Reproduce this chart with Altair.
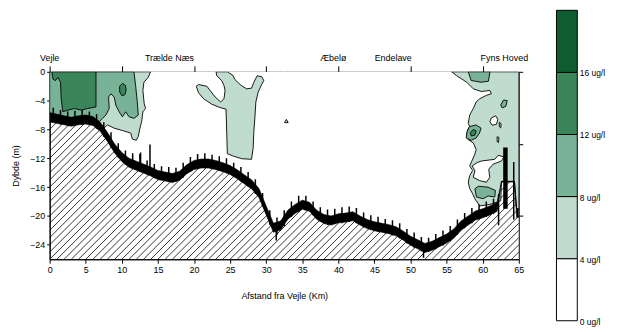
import altair as alt
import pandas as pd

# ---------------- data ----------------
# seabed (echo band) : distance (km), upper and lower depth of the black band (m)
SEABED_KM = [0, 1, 2, 3, 4, 5, 6, 7, 8, 9, 10, 11, 12, 13, 14, 15, 16, 17, 18, 19, 20,
             21, 22, 23, 24, 25, 26, 27, 28, 29, 30, 31, 32, 33, 34, 35, 36, 37, 38, 39, 40,
             41, 42, 43, 44, 45, 46, 47, 48, 49, 50, 51, 52, 53, 54, 55, 56, 57, 58, 59, 60,
             61, 62, 62.6, 64.4, 64.7, 65]
SEABED_TOP = [5.7, 5.9, 6.1, 6.3, 6.1, 6.0, 6.2, 7.0, 8.4, 10.0, 11.2, 12.0, 12.4, 12.8, 13.2,
              13.7, 13.9, 14.1, 13.8, 12.9, 12.3, 12.1, 12.1, 12.3, 12.6, 13.0, 13.6, 14.3, 15.0,
              16.2, 18.6, 21.0, 20.7, 19.2, 18.4, 17.8, 18.1, 19.2, 19.8, 20.0, 19.7, 19.6, 19.4,
              20.0, 20.5, 20.8, 21.0, 21.2, 21.5, 22.1, 22.8, 23.3, 23.8, 23.5, 23.0, 22.5, 21.8,
              20.7, 20.0, 19.3, 19.0, 18.6, 18.1, 15.2, 15.2, 19.0, 19.0]
SEABED_BOT = [6.95, 7.15, 7.35, 7.55, 7.35, 7.25, 7.45, 8.25, 9.65, 11.25, 12.45, 13.25, 13.65,
              14.05, 14.45, 14.95, 15.15, 15.35, 15.05, 14.15, 13.55, 13.35, 13.35, 13.55, 13.85,
              14.25, 14.85, 15.55, 16.25, 17.45, 19.85, 22.25, 21.95, 20.45, 19.65, 19.05, 19.35,
              20.45, 21.05, 21.25, 20.95, 20.85, 20.65, 21.25, 21.75, 22.05, 22.25, 22.45, 22.75,
              23.35, 24.05, 24.55, 25.05, 24.75, 24.25, 23.75, 23.05, 21.95, 21.25, 20.55, 20.25,
              19.85, 19.35, 15.3, 15.3, 20.2, 20.2]

# echo spikes sticking out of the seabed band
SPIKE_KM = [0.5, 1.5, 2.5, 3.5, 4.5, 5.5, 6.5, 7.5, 8.5, 9.5, 10.5, 11.5, 12.5, 13.5, 14.5,
            15.5, 16.5, 17.5, 18.5, 19.5, 20.5, 21.5, 22.5, 23.5, 24.5, 25.5, 26.5, 27.5, 28.5,
            29.5, 30.5, 31.5, 32.5, 33.5, 34.5, 35.5, 36.5, 37.5, 38.5, 39.5, 40.5, 41.5, 42.5,
            43.5, 44.5, 45.5, 46.5, 47.5, 48.5, 49.5, 50.5, 51.5, 52.5, 53.5, 54.5, 55.5, 56.5,
            57.5, 58.5, 59.5, 60.5, 61.5,
            12.6, 13.9, 31.4, 51.8, 62.2, 64.3]
SPIKE_TOP = [5.0, 5.3, 5.5, 5.4, 5.3, 5.5, 5.9, 7.0, 8.4, 9.9, 10.9, 11.3, 11.4, 12.3, 12.8,
             13.1, 13.2, 13.3, 12.6, 11.8, 11.4, 11.3, 11.5, 11.7, 12.0, 12.6, 13.2, 13.9, 14.9,
             16.8, 19.2, 20.2, 19.2, 18.0, 17.2, 17.2, 18.0, 18.8, 19.1, 19.0, 18.8, 18.7, 18.9,
             19.5, 19.9, 20.1, 20.4, 20.6, 21.0, 21.8, 22.3, 22.9, 23.0, 22.5, 22.0, 21.4, 20.5,
             19.6, 18.9, 18.4, 18.0, 17.6,
             11.2, 10.1, 21.5, 24.2, 17.0, 12.5]
SPIKE_BOT = [7.0, 7.3, 7.5, 7.4, 7.3, 7.4, 7.9, 9.0, 10.5, 11.9, 12.9, 13.4, 13.8, 14.2, 14.7,
             15.0, 15.3, 15.2, 14.7, 13.9, 13.4, 13.3, 13.4, 13.7, 14.0, 14.5, 15.2, 15.9, 16.9,
             18.6, 21.2, 22.6, 21.4, 20.1, 19.4, 19.2, 19.9, 20.8, 21.2, 21.1, 21.0, 20.8, 21.0,
             21.6, 21.9, 22.2, 22.4, 22.7, 23.1, 23.8, 24.4, 24.9, 25.0, 24.6, 24.1, 23.5, 22.6,
             21.7, 21.0, 20.5, 20.1, 19.7,
             13.0, 13.5, 23.4, 25.8, 21.3, 20.5]
BAR_KM = [63.15]
BAR_TOP = [10.5]
BAR_BOT = [19.0]

# chlorophyll contour polygons (km, depth m)
L1 = [(6.5, 0), (13.98, 0), (13.66, 0.77), (13.06, 1.46), (12.92, 2.59), (13.1, 4.41),
      (13.29, 5.09), (12.92, 5.55), (12.74, 6.91), (12.51, 7.82), (12.28, 8.96), (12.0, 9.5),
      (11.46, 9.32), (11.23, 8.5), (10.08, 8.14), (8.94, 7.82), (8.02, 7.37), (7.5, 7.8),
      (7.0, 7.4), (6.5, 7.0)]
TBLOB = [(23.06, 0), (23.15, 0.55), (23.84, 1.23), (24.16, 1.91), (24.30, 2.59), (24.16, 3.73),
         (23.70, 4.18), (22.93, 3.50), (22.24, 2.59), (21.78, 2.0), (20.63, 1.77), (20.31, 2.0),
         (20.63, 2.91), (21.32, 3.73), (22.47, 4.50), (23.61, 4.96), (24.44, 5.18), (24.53, 8.28),
         (24.62, 11.37), (25.45, 11.69), (26.59, 12.05), (27.97, 12.14), (28.20, 10.55),
         (28.29, 8.28), (28.43, 6.46), (28.57, 4.18), (28.89, 2.82), (29.34, 1.82), (29.67, 1.23),
         (29.39, 0.68), (28.75, 0.55), (28.29, 1.46), (27.97, 2.27), (27.28, 2.36), (26.45, 1.82),
         (25.68, 1.09), (25.36, 0.45), (24.90, 0.18), (24.67, 0)]
TRI = [(32.55, 7.05), (32.8, 6.6), (33.05, 7.05)]
RIGHT = [(55.7, 0), (56.4, 0.55), (57.1, 1.0), (57.8, 1.46), (58.7, 2.36), (59.8, 2.73),
         (61.0, 2.59), (61.2, 3.05), (60.5, 3.27), (59.6, 3.73), (59.1, 4.18), (58.7, 5.09),
         (58.2, 6.0), (58.0, 7.14), (58.2, 7.6), (57.9, 8.05), (57.8, 8.73), (58.0, 9.41),
         (58.7, 9.86), (59.1, 10.78), (58.9, 11.46), (58.5, 12.37), (58.2, 13.05), (58.6, 13.7),
         (58.2, 14.4), (58.0, 15.3), (58.2, 16.2), (58.6, 16.9), (58.9, 17.6), (59.6, 18.6),
         (61.0, 18.4), (62.5, 17.9), (62.6, 15.2), (64.4, 15.2), (64.7, 19.0), (65, 19.0), (65, 0)]
LOOP1 = [(62.3, 7.0), (62.55, 7.2), (62.5, 7.8), (62.3, 7.6)]
LOOP2 = [(62.0, 9.0), (62.25, 9.1), (62.2, 9.8), (62.0, 9.7)]
W1 = [(61.2, 6.4), (61.8, 6.1), (62.1, 6.6), (61.9, 7.3), (61.3, 7.4), (61.0, 6.9)]
W2 = [(59.83, 12.37), (61.67, 12.14), (62.13, 11.6), (62.95, 11.78), (62.59, 12.37),
      (61.44, 12.82), (60.84, 13.51), (60.98, 14.64), (60.52, 15.32), (59.6, 15.1),
      (58.69, 14.64), (58.92, 13.73), (58.55, 13.05), (59.22, 12.6)]
M1 = [(0, 0), (11.68, 0), (11.91, 1.91), (12.14, 4.18), (12.28, 6.0), (11.68, 6.46), (11.0, 6.23),
      (10.54, 5.55), (10.08, 6.23), (9.63, 5.55), (9.17, 4.64), (8.94, 3.5), (8.48, 3.05),
      (8.16, 3.5), (8.25, 5.09), (7.79, 6.0), (7.33, 6.46), (6.88, 6.91), (6.0, 6.4), (5.0, 6.1),
      (4.0, 6.2), (3.0, 6.4), (2.0, 6.2), (1.0, 5.9), (0, 5.7)]
MR_TOP = [(58.0, 0), (61.0, 0), (60.8, 1.3), (59.8, 1.45), (58.4, 1.2)]
MR1 = [(57.85, 8.28), (58.17, 7.6), (59.09, 7.37), (59.78, 7.82), (59.55, 8.5), (59.09, 9.18),
       (58.4, 9.5), (57.71, 9.18)]
MR2 = [(62.5, 4.6), (62.9, 3.9), (63.4, 4.0), (63.2, 4.8), (62.7, 5.0)]
MR3 = [(58.92, 16.23), (59.38, 15.87), (60.75, 16.0), (61.76, 16.46), (61.67, 17.37),
       (60.75, 17.23), (60.06, 17.6), (59.14, 17.37)]
D1 = [(0.32, 0), (6.42, 0), (6.42, 4.87), (5.27, 5.09), (4.36, 5.32), (3.44, 5.09), (2.52, 5.32),
      (1.83, 5.55), (1.6, 3.73), (1.51, 1.46), (1.15, 0.77), (0.78, 1.23), (0.46, 1.0), (0.32, 0.1)]
ISLAND = [(10.1, 1.6), (10.5, 1.9), (10.6, 2.6), (10.4, 3.2), (10.0, 3.3), (9.7, 2.8), (9.7, 2.0)]
DR1 = [(58.3, 8.4), (58.7, 8.0), (59.1, 8.2), (58.9, 8.8), (58.4, 8.9)]

POLYS = [("L1", "light", L1), ("TBLOB", "light", TBLOB), ("TRI", "light", TRI),
         ("RIGHT", "light", RIGHT), ("LOOP1", "light", LOOP1), ("LOOP2", "light", LOOP2),
         ("W1", "white", W1), ("W2", "white", W2),
         ("M1", "medium", M1), ("MR_TOP", "medium", MR_TOP), ("MR1", "medium", MR1),
         ("MR2", "medium", MR2), ("MR3", "medium", MR3),
         ("D1", "dark", D1), ("ISLAND", "dark", ISLAND), ("DR1", "dark", DR1)]

PLACE_NAMES = ["Vejle", "Trælde Næs", "Æbelø", "Endelave", "Fyns Hoved"]
PLACE_KM = [0, 16.6, 39.3, 47.6, 63.0]

LEVEL_LO = [0, 4, 8, 12, 16]
LEVEL_HI = [4, 8, 12, 16, 20]
LEVEL_LABELS = ["0 ug/l", "4 ug/l", "8 ug/l", "12 ug/l", "16 ug/l"]

# ---------------- styling ----------------
C_LIGHT = "#c0dccf"
C_MED = "#78b297"
C_DARK = "#3b855a"
C_DARKEST = "#0e5c30"
LEVEL_COLORS = ["#ffffff", C_LIGHT, C_MED, C_DARK, C_DARKEST]
CLASS_COLORS = {"light": C_LIGHT, "white": "#ffffff", "medium": C_MED, "dark": C_DARK}
FONT = "Liberation Sans"

# ---------------- tables ----------------
rows = []
for pid, cls, pts in POLYS:
    closed = list(pts) + [pts[0]]
    for i, (k, d) in enumerate(closed):
        rows.append({"pid": pid, "cls": cls, "i": i, "km": k, "y": -d})
poly_df = pd.DataFrame(rows)

sea_df = pd.DataFrame({"km": SEABED_KM,
                       "ytop": [-v for v in SEABED_TOP],
                       "ybot": [-v for v in SEABED_BOT]})
spike_df = pd.DataFrame({"km": SPIKE_KM, "yt": [-v for v in SPIKE_TOP], "yb": [-v for v in SPIKE_BOT]})
bar_df = pd.DataFrame({"km": BAR_KM, "yt": [-v for v in BAR_TOP], "yb": [-v for v in BAR_BOT]})
place_df = pd.DataFrame({"name": PLACE_NAMES, "km": PLACE_KM})
cb_df = pd.DataFrame({"lo": LEVEL_LO, "hi": LEVEL_HI, "color": LEVEL_COLORS, "label": LEVEL_LABELS})

X_SCALE = alt.Scale(domain=[0, 65], nice=False, zero=False)
Y_SCALE = alt.Scale(domain=[-26, 0], nice=False, zero=False)
CB_X = alt.Scale(domain=[0, 1], range=[511, 532], nice=False, zero=False)
CB_Y = alt.Scale(domain=[0, 20], range=[251, -62], nice=False, zero=False)

bottom_axis = alt.Axis(values=list(range(0, 66, 5)), title="Afstand fra Vejle (Km)",
                       tickSize=4, labelPadding=2, titlePadding=18, labelFlush=False,
                       labelOverlap=False)
left_axis = alt.Axis(values=[0, -4, -8, -12, -16, -20, -24], title="Dybde (m)",
                     tickSize=3, labelPadding=2, titlePadding=9, labelFlush=False,
                     labelOverlap=False)
top_axis = alt.Axis(orient="top", values=list(range(0, 61, 10)), labels=False, title=None,
                    tickSize=6, domain=False)
right_axis = alt.Axis(orient="right", values=[0, -10, -20], labels=False, title=None,
                      tickSize=4, domain=False)

hatch = alt.Chart(alt.sequence(-26, 66, 1, as_="x0")).transform_calculate(
    x1="datum.x0 + 26", ya="-26", yb="0"
).mark_rule(color="black", strokeWidth=0.8, clip=True).encode(
    x=alt.X("x0:Q", scale=X_SCALE, axis=bottom_axis),
    x2="x1:Q",
    y=alt.Y("ya:Q", scale=Y_SCALE, axis=left_axis),
    y2="yb:Q",
)

water = alt.Chart(sea_df).transform_calculate(zero="0").mark_area(
    color="white", clip=True
).encode(
    x=alt.X("km:Q", scale=X_SCALE, axis=top_axis),
    y=alt.Y("ytop:Q", scale=Y_SCALE, axis=right_axis),
    y2="zero:Q",
)


def poly_layer(cls):
    return alt.Chart(poly_df).transform_filter(alt.datum.cls == cls).mark_line(
        fill=CLASS_COLORS[cls], stroke="black", strokeWidth=0.9, clip=True, strokeJoin="round"
    ).encode(
        x=alt.X("km:Q", scale=X_SCALE, axis=None),
        y=alt.Y("y:Q", scale=Y_SCALE, axis=None),
        detail="pid:N",
        order="i:Q",
    )


band = alt.Chart(sea_df).mark_area(color="black", stroke="black", strokeWidth=0.6, clip=True).encode(
    x=alt.X("km:Q", scale=X_SCALE, axis=None),
    y=alt.Y("ytop:Q", scale=Y_SCALE, axis=None),
    y2="ybot:Q",
)

spikes = alt.Chart(spike_df).mark_rule(color="black", strokeWidth=1.5, clip=True).encode(
    x=alt.X("km:Q", scale=X_SCALE, axis=None),
    y=alt.Y("yt:Q", scale=Y_SCALE, axis=None),
    y2="yb:Q",
)

bar = alt.Chart(bar_df).mark_rule(color="black", strokeWidth=4.5, clip=True).encode(
    x=alt.X("km:Q", scale=X_SCALE, axis=None),
    y=alt.Y("yt:Q", scale=Y_SCALE, axis=None),
    y2="yb:Q",
)

places = alt.Chart(place_df).mark_text(font=FONT, fontSize=9, baseline="middle",
                                       align="center", color="black").encode(
    x=alt.X("km:Q", scale=X_SCALE, axis=None),
    y=alt.value(-14),
    text="name:N",
)

cbar = alt.Chart(cb_df).transform_calculate(b0="0", b1="1").mark_rect(
    stroke="black", strokeWidth=1
).encode(
    x=alt.X("b0:Q", scale=CB_X, axis=None),
    x2="b1:Q",
    y=alt.Y("lo:Q", scale=CB_Y, axis=None),
    y2="hi:Q",
    fill=alt.Fill("color:N", scale=None),
)

cb_text = alt.Chart(cb_df).transform_calculate(lx="1.12").mark_text(
    font=FONT, fontSize=8.5, align="left", baseline="middle", dy=1, color="black"
).encode(
    x=alt.X("lx:Q", scale=CB_X, axis=None),
    y=alt.Y("lo:Q", scale=CB_Y, axis=None),
    text="label:N",
)

chart = alt.layer(
    hatch, water,
    poly_layer("light"), poly_layer("white"), poly_layer("medium"), poly_layer("dark"),
    band, spikes, bar, places, cbar, cb_text,
).resolve_scale(x="independent", y="independent").properties(
    width=473, height=189,
    autosize=alt.AutoSizeParams(type="none"),
    padding={"left": 42, "top": 63, "right": 95, "bottom": 70},
).configure_view(stroke="black", strokeWidth=1).configure_axis(
    labelFont=FONT, titleFont=FONT, labelFontSize=9, titleFontSize=9,
    titleFontWeight="normal", grid=False, domainColor="black", tickColor="black",
    labelColor="black", titleColor="black",
)

chart.save("out.html", embed_options={"renderer": "svg", "actions": False})
